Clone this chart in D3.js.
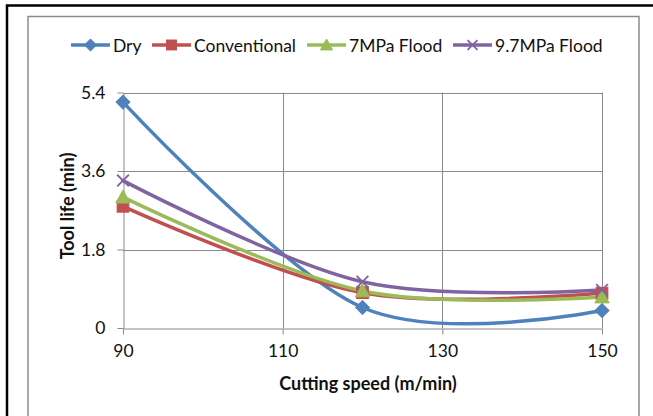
<!DOCTYPE html>
<html><head><meta charset="utf-8">
<script src="https://cdn.jsdelivr.net/npm/d3@7"></script>
<style>html,body{margin:0;padding:0;background:#fff;}svg{display:block;font-family:Lato,"Open Sans",sans-serif;}</style>
</head><body>
<svg id="c" width="653" height="416"></svg>
<script>
const speeds = [90, 120, 150];
const seriesNames = ["Dry", "Conventional", "7MPa Flood", "9.7MPa Flood"];
const dryValues = [5.18, 0.47, 0.40];
const conventionalValues = [2.79, 0.81, 0.80];
const flood7Values = [3.00, 0.85, 0.71];
const flood97Values = [3.38, 1.06, 0.87];
const xTicks = [90, 110, 130, 150];
const yTicks = [0, 1.8, 3.6, 5.4];
const xTitle = "Cutting speed (m/min)";
const yTitle = "Tool life (min)";

const colors = ["#4F81BD", "#C0504D", "#9BBB59", "#8064A2"];
const markers = ["diamond", "square", "triangle", "x"];
const allValues = [dryValues, conventionalValues, flood7Values, flood97Values];

const svg = d3.select("#c");
// outer black frame
svg.append("rect").attr("x", 7).attr("y", 5.5).attr("width", 700).attr("height", 500)
  .attr("fill", "none").attr("stroke", "#000").attr("stroke-width", 2.5);
// chart area border
svg.append("rect").attr("x", 28).attr("y", 16.5).attr("width", 611).attr("height", 480)
  .attr("fill", "#fff").attr("stroke", "#8c8c8c").attr("stroke-width", 1.5);

const x = d3.scaleLinear().domain([90, 150]).range([123, 602]);
const y = d3.scaleLinear().domain([0, 5.4]).range([328, 92.5]);

const gridColor = "#8a8a8a";
// gridlines
svg.append("g").selectAll("line").data(yTicks.slice(1)).join("line")
  .attr("x1", x(90)).attr("x2", x(150))
  .attr("y1", d => Math.round(y(d)) + 0.5).attr("y2", d => Math.round(y(d)) + 0.5)
  .attr("stroke", gridColor).attr("stroke-width", 1);
svg.append("g").selectAll("line").data(xTicks.slice(1)).join("line")
  .attr("x1", d => Math.round(x(d)) + 0.5).attr("x2", d => Math.round(x(d)) + 0.5)
  .attr("y1", y(5.4)).attr("y2", y(0))
  .attr("stroke", gridColor).attr("stroke-width", 1);

// axes
const xAxis = d3.axisBottom(x).tickValues(xTicks).tickSizeInner(6).tickSizeOuter(0).tickPadding(10).tickFormat(d3.format("d"));
const gx = svg.append("g").attr("transform", `translate(0,${Math.round(y(0)) + 0.5})`).call(xAxis);
const yAxis = d3.axisLeft(y).tickValues(yTicks).tickSizeInner(6).tickSizeOuter(0).tickPadding(12).tickFormat(d => d === 0 ? "0" : d3.format(".1f")(d));
const gy = svg.append("g").attr("transform", `translate(${Math.round(x(90)) + 0.5},0)`).call(yAxis);
[gx, gy].forEach(g => {
  g.select(".domain").attr("stroke", gridColor);
  g.selectAll(".tick line").attr("stroke", gridColor);
  g.selectAll(".tick text").attr("fill", "#111").attr("font-size", 17.5).attr("font-family", "Lato");
});
gx.selectAll(".tick text").attr("dy", "0.71em");

// axis titles
svg.append("text").attr("x", 368).attr("y", 383).attr("text-anchor", "middle").attr("dominant-baseline", "central")
  .attr("font-weight", "bold").attr("font-size", 18).attr("fill", "#111").text(xTitle);
svg.append("text").attr("transform", "translate(67,206) rotate(-90)").attr("text-anchor", "middle").attr("dominant-baseline", "central")
  .attr("font-weight", "bold").attr("font-size", 18).attr("fill", "#111").text(yTitle);

function drawMarker(g, type, color, cx, cy, s) {
  if (type === "diamond") {
    g.append("path").attr("d", `M${cx},${cy - s * 0.55}L${cx + s * 0.55},${cy}L${cx},${cy + s * 0.55}L${cx - s * 0.55},${cy}Z`)
      .attr("fill", color).attr("stroke", color).attr("stroke-width", 1);
  } else if (type === "square") {
    g.append("rect").attr("x", cx - s * 0.45).attr("y", cy - s * 0.45).attr("width", s * 0.9).attr("height", s * 0.9)
      .attr("fill", color).attr("stroke", color).attr("stroke-width", 1);
  } else if (type === "triangle") {
    g.append("path").attr("d", `M${cx},${cy - s * 0.55}L${cx + s * 0.55},${cy + s * 0.45}L${cx - s * 0.55},${cy + s * 0.45}Z`)
      .attr("fill", color).attr("stroke", color).attr("stroke-width", 1);
  } else {
    const h = s * 0.45;
    g.append("path").attr("d", `M${cx - h},${cy - h}L${cx + h},${cy + h}M${cx - h},${cy + h}L${cx + h},${cy - h}`)
      .attr("fill", "none").attr("stroke", color).attr("stroke-width", 1.8);
  }
}

const line = d3.line().x(d => x(d[0])).y(d => y(d[1])).curve(d3.curveCardinal.tension(0));
const plot = svg.append("g");
allValues.forEach((vals, i) => {
  const pts = speeds.map((s, j) => [s, vals[j]]);
  plot.append("path").attr("d", line(pts)).attr("fill", "none").attr("stroke", colors[i])
    .attr("stroke-width", 3.5).attr("stroke-linecap", "round").attr("stroke-linejoin", "round");
});
allValues.forEach((vals, i) => {
  const g = plot.append("g");
  speeds.forEach((s, j) => drawMarker(g, markers[i], colors[i], x(s), y(vals[j]), 13));
});

// legend
const legendLineStarts = [71, 152, 307, 453];
const legendY = 45;
seriesNames.forEach((name, i) => {
  const g = svg.append("g");
  const x0 = legendLineStarts[i];
  g.append("line").attr("x1", x0).attr("x2", x0 + 39).attr("y1", legendY).attr("y2", legendY)
    .attr("stroke", colors[i]).attr("stroke-width", 3.5);
  drawMarker(g, markers[i], colors[i], x0 + 19.5, legendY, 11);
  g.append("text").attr("x", x0 + 42).attr("y", legendY).attr("dominant-baseline", "central")
    .attr("font-size", 17.5).attr("fill", "#111").text(name);
});
</script>
</body></html>
